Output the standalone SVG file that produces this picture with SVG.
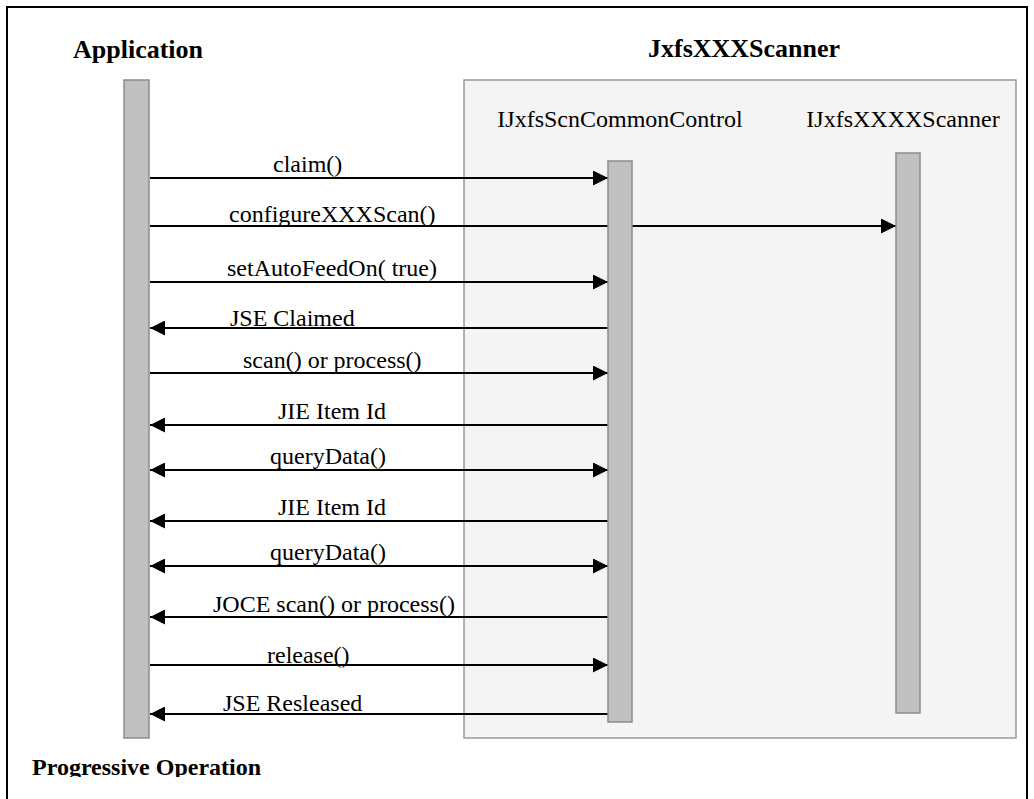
<svg xmlns="http://www.w3.org/2000/svg" width="1034" height="799" viewBox="0 0 1034 799">
  <style>
    text { font-family: "Liberation Serif", "Times New Roman", serif; fill: #000; }
    .title { font-weight: bold; font-size: 26px; }
    .hdr { font-size: 24px; text-anchor: middle; }
    .lbl { font-size: 24px; }
    .life { fill: #c0c0c0; stroke: #8c8c8c; stroke-width: 1.5; }
    .msg { stroke: #000; stroke-width: 2; fill: none; }
  </style>
  <defs>
    <marker id="ah" viewBox="0 0 15 15" refX="15" refY="7.5" markerWidth="15" markerHeight="15" markerUnits="userSpaceOnUse" orient="auto-start-reverse">
      <path d="M0,0 L15,7.5 L0,15 Z" fill="#000"/>
    </marker>
    <clipPath id="pageClip">
      <rect x="0" y="0" width="1034" height="777"/>
    </clipPath>
  </defs>

  <rect width="1034" height="799" fill="#fff"/>
  <!-- outer frame, open at the bottom edge -->
  <rect x="7" y="7" width="1020" height="810" fill="none" stroke="#000" stroke-width="2"/>

  <g id="application">
    <text class="title" x="73" y="58">Application</text>
    <rect class="life" x="124" y="80" width="25" height="658"/>
  </g>

  <g id="scanner-service">
    <text class="title" x="648" y="57">JxfsXXXScanner</text>
    <rect x="464" y="80" width="552" height="658" fill="#f4f4f4" stroke="#999" stroke-width="1.5"/>
  </g>

  <g id="connectors">
    <line class="msg" x1="150" y1="178" x2="608" y2="178" marker-end="url(#ah)"/>
    <line class="msg" x1="150" y1="226" x2="896" y2="226" marker-end="url(#ah)"/>
    <line class="msg" x1="150" y1="282" x2="608" y2="282" marker-end="url(#ah)"/>
    <line class="msg" x1="608" y1="328" x2="150" y2="328" marker-end="url(#ah)"/>
    <line class="msg" x1="150" y1="373" x2="608" y2="373" marker-end="url(#ah)"/>
    <line class="msg" x1="608" y1="425" x2="150" y2="425" marker-end="url(#ah)"/>
    <line class="msg" x1="150" y1="470" x2="608" y2="470" marker-start="url(#ah)" marker-end="url(#ah)"/>
    <line class="msg" x1="608" y1="521" x2="150" y2="521" marker-end="url(#ah)"/>
    <line class="msg" x1="150" y1="566" x2="608" y2="566" marker-start="url(#ah)" marker-end="url(#ah)"/>
    <line class="msg" x1="608" y1="617" x2="150" y2="617" marker-end="url(#ah)"/>
    <line class="msg" x1="150" y1="665" x2="608" y2="665" marker-end="url(#ah)"/>
    <line class="msg" x1="608" y1="714" x2="150" y2="714" marker-end="url(#ah)"/>

    <text class="lbl" x="273" y="172">claim()</text>
    <text class="lbl" x="229" y="222">configureXXXScan()</text>
    <text class="lbl" x="227" y="276">setAutoFeedOn( true)</text>
    <text class="lbl" x="230" y="326">JSE Claimed</text>
    <text class="lbl" x="243" y="368">scan() or process()</text>
    <text class="lbl" x="278" y="419">JIE Item Id</text>
    <text class="lbl" x="270" y="464">queryData()</text>
    <text class="lbl" x="278" y="515">JIE Item Id</text>
    <text class="lbl" x="270" y="560">queryData()</text>
    <text class="lbl" x="213" y="612">JOCE scan() or process()</text>
    <text class="lbl" x="267" y="663">release()</text>
    <text class="lbl" x="223" y="711">JSE Resleased</text>
  </g>

  <g id="common-control">
    <text class="hdr" x="620" y="127">IJxfsScnCommonControl</text>
    <rect class="life" x="608" y="161" width="24" height="561"/>
  </g>

  <g id="xxxx-scanner">
    <text class="hdr" x="903" y="127">IJxfsXXXXScanner</text>
    <rect class="life" x="896" y="153" width="24" height="560"/>
  </g>

  <!-- caption; its lower edge runs past the visible page -->
  <text class="title" x="32" y="775" style="font-size:24px" clip-path="url(#pageClip)">Progressive Operation</text>
</svg>
